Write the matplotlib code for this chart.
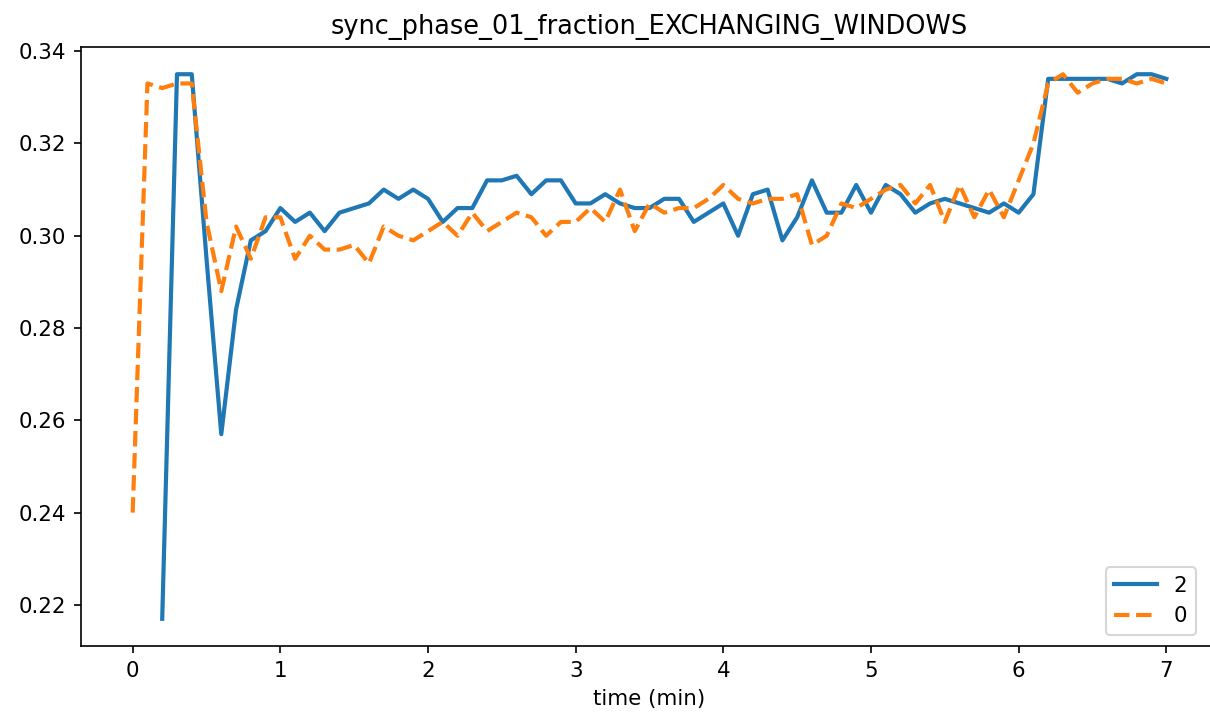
import numpy as np
import matplotlib
matplotlib.use("Agg")
import matplotlib.pyplot as plt

title = "sync_phase_01_fraction_EXCHANGING_WINDOWS"
xlabel = "time (min)"

# series "2" (starts at 0.2 min)
time_2 = np.round(np.arange(0.2, 7.01, 0.1), 1)
values_2 = [0.217, 0.335, 0.335, 0.295, 0.257, 0.284, 0.299, 0.301, 0.306,
            0.303, 0.305, 0.301, 0.305, 0.306, 0.307, 0.310, 0.308, 0.310,
            0.308, 0.303, 0.306, 0.306, 0.312, 0.312, 0.313, 0.309, 0.312,
            0.312, 0.307, 0.307, 0.309, 0.307, 0.306, 0.306, 0.308, 0.308,
            0.303, 0.305, 0.307, 0.300, 0.309, 0.310, 0.299, 0.304, 0.312,
            0.305, 0.305, 0.311, 0.305, 0.311, 0.309, 0.305, 0.307, 0.308,
            0.307, 0.306, 0.305, 0.307, 0.305, 0.309, 0.334, 0.334, 0.334,
            0.334, 0.334, 0.333, 0.335, 0.335, 0.334]

# series "0" (starts at 0 min)
time_0 = np.round(np.arange(0.0, 7.01, 0.1), 1)
values_0 = [0.240, 0.333, 0.332, 0.333, 0.333, 0.303, 0.288, 0.302, 0.295,
            0.304, 0.304, 0.295, 0.300, 0.297, 0.297, 0.298, 0.294, 0.302,
            0.300, 0.299, 0.301, 0.303, 0.300, 0.305, 0.301, 0.303, 0.305,
            0.304, 0.300, 0.303, 0.303, 0.306, 0.303, 0.310, 0.301, 0.307,
            0.305, 0.306, 0.306, 0.308, 0.311, 0.308, 0.307, 0.308, 0.308,
            0.309, 0.298, 0.300, 0.307, 0.306, 0.308, 0.310, 0.311, 0.307,
            0.311, 0.303, 0.311, 0.304, 0.310, 0.304, 0.312, 0.320, 0.333,
            0.335, 0.331, 0.333, 0.334, 0.334, 0.333, 0.334, 0.333]

plt.rcParams["font.size"] = 10.25

W, H, DPI = 1210, 719, 150
fig = plt.figure(figsize=(W / DPI, H / DPI), dpi=DPI)
ax = fig.add_axes([81 / W, (H - 646) / H, (1218 - 81) / W, (646 - 47) / H])

ax.plot(time_2, values_2, color="#1f77b4", lw=2, ls="-", label="2")
ax.plot(time_0, values_0, color="#ff7f0e", lw=2, ls="--", label="0")

ax.set_title(title)
ax.set_xlabel(xlabel)
ax.set_yticks([0.22, 0.24, 0.26, 0.28, 0.30, 0.32, 0.34])
ax.set_xticks(range(0, 8))
ax.legend(loc="lower right", bbox_to_anchor=(1196 / W, (H - 635) / H),
          bbox_transform=fig.transFigure, borderaxespad=0)

fig.savefig("out.png", dpi=DPI)
